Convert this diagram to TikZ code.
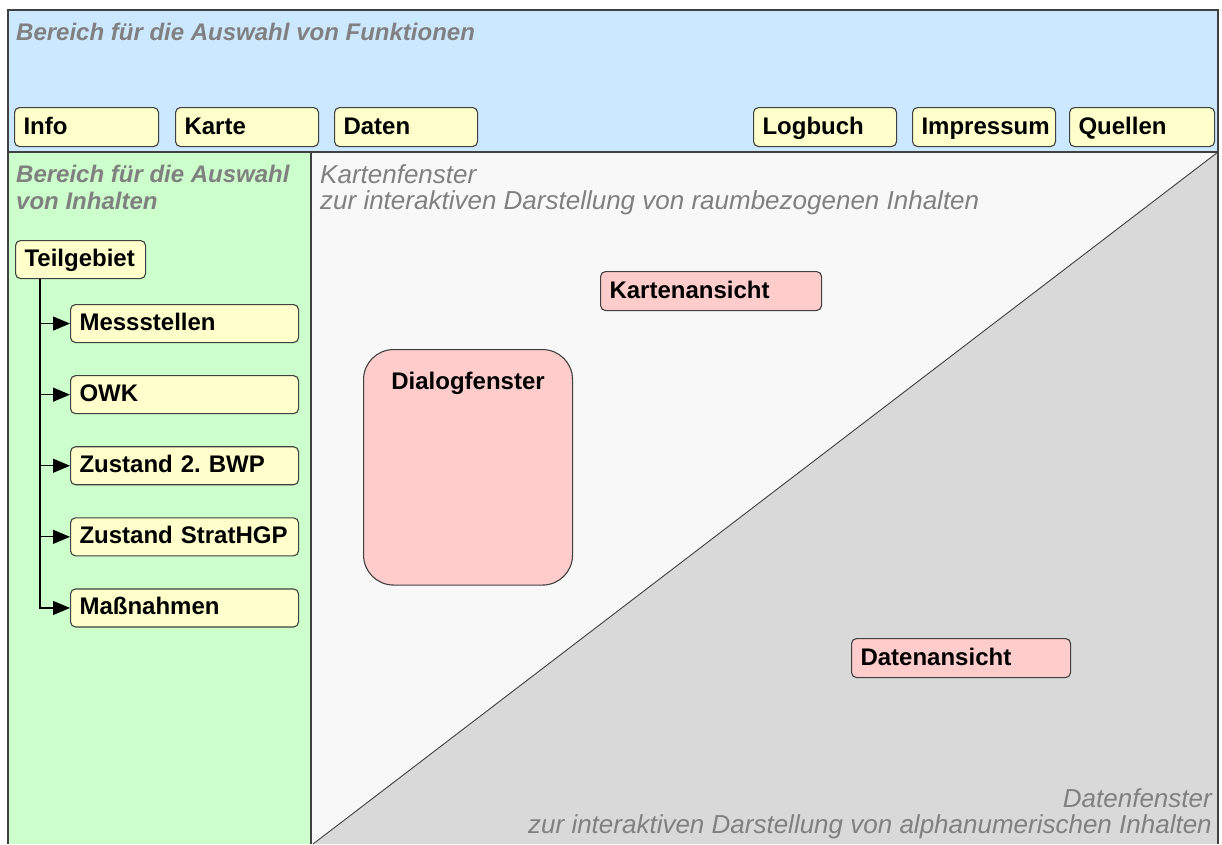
\documentclass[tikz,border=0pt]{standalone}
\usepackage{fontspec}
\setsansfont{Liberation Sans}
\usetikzlibrary{arrows.meta,positioning}
\definecolor{frame}{HTML}{404040}
\definecolor{topbg}{HTML}{CCE8FF}
\definecolor{leftbg}{HTML}{CCFFCC}
\definecolor{mapbg}{HTML}{F8F8F8}
\definecolor{databg}{HTML}{D9D9D9}
\definecolor{btnfill}{HTML}{FFFFCC}
\definecolor{viewfill}{HTML}{FFCCCC}
\definecolor{hintgray}{HTML}{808080}
\frenchspacing
\begin{document}
\begin{tikzpicture}[x=1pt,y=-1pt,font=\sffamily,
 pane/.style={draw=frame,line width=1.6pt},
 btn/.style={draw=frame,fill=btnfill,line width=1.1pt,rounded corners=5pt,anchor=north west,minimum height=39pt,inner xsep=9pt,text height=18.5pt,text depth=4.5pt,align=left,font=\sffamily\bfseries\fontsize{24}{28}\selectfont},
 leaf/.style={btn,text width=210pt,minimum height=38pt},
 view/.style={btn,fill=viewfill},
 hint/.style={text=hintgray,inner sep=0pt,anchor=north west,align=left,font=\sffamily\itshape\fontsize{26}{26}\selectfont},
 hintbold/.style={hint,font=\sffamily\bfseries\itshape\fontsize{24}{27}\selectfont},
 tree/.style={-{Triangle[length=17pt,width=14pt]},line width=1.2pt,draw=black}]
\useasboundingbox (0,0) rectangle (1222,844);
\fill[topbg] (8,10) rectangle (1218,152);
\fill[leftbg] (8,152) rectangle (311,844);
\fill[mapbg] (311,152) rectangle (1218,844);
\fill[databg] (313,844) -- (1218,152) -- (1218,844) -- cycle;
\draw[frame,line width=0.9pt] (313,844) -- (1218,152);
\draw[pane] (8,844) -- (8,10) -- (1218,10) -- (1218,844) (8,152) -- (1218,152) (311,152) -- (311,844);
\node[hintbold] (funktitle) at (16,23) {Bereich für die Auswahl von Funktionen};
\node[hintbold] (inhtitle) at (16,165) {Bereich für die Auswahl\\von Inhalten};
\node[hint] (karttitle) at (320,164) {Kartenfenster\\zur interaktiven Darstellung von raumbezogenen Inhalten};
\node[hint,anchor=south east,align=right] (datentitle) at (1212,839) {Datenfenster\\zur interaktiven Darstellung von alphanumerischen Inhalten};
\node[btn,text width=126pt] (info) at (14,107) {Info};
\node[btn,text width=125pt] (karte) at (175,107) {Karte};
\node[btn,text width=125pt] (daten) at (334,107) {Daten};
\node[btn,text width=125pt] (logbuch) at (753,107) {Logbuch};
\node[btn,text width=125pt] (impressum) at (912,107) {Impressum};
\node[btn,text width=127pt] (quellen) at (1069,107) {Quellen};
\node[btn,text width=112pt,minimum height=38pt] (teil) at (15,240) {Teilgebiet};
\node[leaf] (mess) at (70,304) {Messstellen};
\node[leaf,below=32pt of mess] (owk) {OWK};
\node[leaf,below=32pt of owk] (bwp) {Zustand 2. BWP};
\node[leaf,below=32pt of bwp] (strat) {Zustand StratHGP};
\node[leaf,below=32pt of strat] (massn) {Maßnahmen};
\foreach \c in {mess,owk,bwp,strat,massn} \draw[tree] ([xshift=25pt]teil.south west) |- (\c.west);
\node[view,text width=203pt] (kartenansicht) at (600,271) {Kartenansicht};
\node[view,text width=201pt] (datenansicht) at (851,638) {Datenansicht};
\node[view,text width=191pt,align=center,rounded corners=30pt,text height=17.5pt,text depth=174pt,inner ysep=22pt] (dialog) at (363,349) {Dialogfenster};
\end{tikzpicture}
\end{document}
